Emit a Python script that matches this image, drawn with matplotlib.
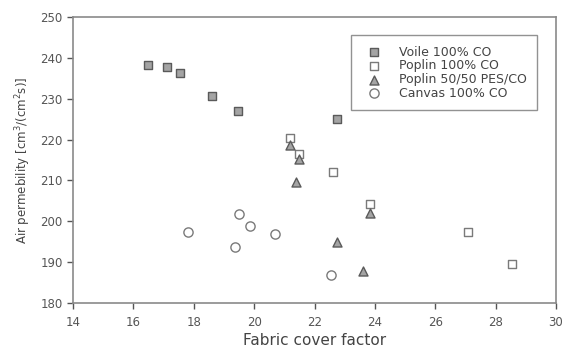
import matplotlib
matplotlib.use('Agg')
import matplotlib.pyplot as plt

plt.rcParams['font.family'] = ['DejaVu Sans']

# data
voile_x = [16.5, 17.1, 17.55, 18.6, 19.45, 22.75]
voile_y = [238.2, 237.7, 236.2, 230.7, 227.1, 225.0]

poplin_x = [21.2, 21.5, 22.6, 23.85, 27.1, 28.55]
poplin_y = [220.4, 216.4, 212.1, 204.3, 197.3, 189.5]

pes_x = [21.2, 21.5, 21.4, 23.85, 22.75, 23.6]
pes_y = [218.6, 215.2, 209.7, 202.0, 194.9, 187.9]

canvas_x = [17.8, 19.5, 19.85, 19.35, 20.7, 22.55]
canvas_y = [197.3, 201.7, 198.8, 193.8, 196.9, 186.8]

xticks = [14, 16, 18, 20, 22, 24, 26, 28, 30]
yticks = [180, 190, 200, 210, 220, 230, 240, 250]

grey = '#7a7a7a'
edge = '#5a5a5a'

fig = plt.figure(figsize=(5.66, 3.49), dpi=100)
ax = fig.add_axes([73 / 566, 1 - 303 / 349, (556 - 73) / 566, (303 - 17) / 349])

ax.scatter(voile_x, voile_y, marker='s', s=34, facecolor='#a4a4a4', edgecolor=edge,
           linewidth=1.0, label='Voile 100% CO')
ax.scatter(poplin_x, poplin_y, marker='s', s=34, facecolor='white', edgecolor=grey,
           linewidth=1.0, label='Poplin 100% CO')
ax.scatter(pes_x, pes_y, marker='^', s=42, facecolor='#a4a4a4', edgecolor=edge,
           linewidth=1.0, label='Poplin 50/50 PES/CO')
ax.scatter(canvas_x, canvas_y, marker='o', s=44, facecolor='white', edgecolor=grey,
           linewidth=1.0, label='Canvas 100% CO')

ax.set_xlim(14, 30)
ax.set_ylim(180, 250)
ax.set_xticks(xticks)
ax.set_yticks(yticks)
ax.tick_params(colors='#555555', labelsize=8.5, length=4, width=1, direction='out')
ax.tick_params(axis='x', pad=5)
for sp in ax.spines.values():
    sp.set_color('#8a8a8a')
    sp.set_linewidth(1.2)

ax.set_xlabel('Fabric cover factor', fontsize=11, color='#444444', labelpad=3)
ax.set_ylabel('Air permebility [cm$^3$/(cm$^2$s)]', fontsize=8.5, color='#444444', labelpad=5)

leg = ax.legend(loc='upper right', bbox_to_anchor=(0.961, 0.937), fontsize=9,
                frameon=True, fancybox=False, edgecolor='#777777',
                handletextpad=1.0, borderpad=0.85, labelspacing=0.05, borderaxespad=0)
leg.get_frame().set_linewidth(1.0)
for t in leg.get_texts():
    t.set_color('#444444')

fig.savefig('out.png', dpi=100)
